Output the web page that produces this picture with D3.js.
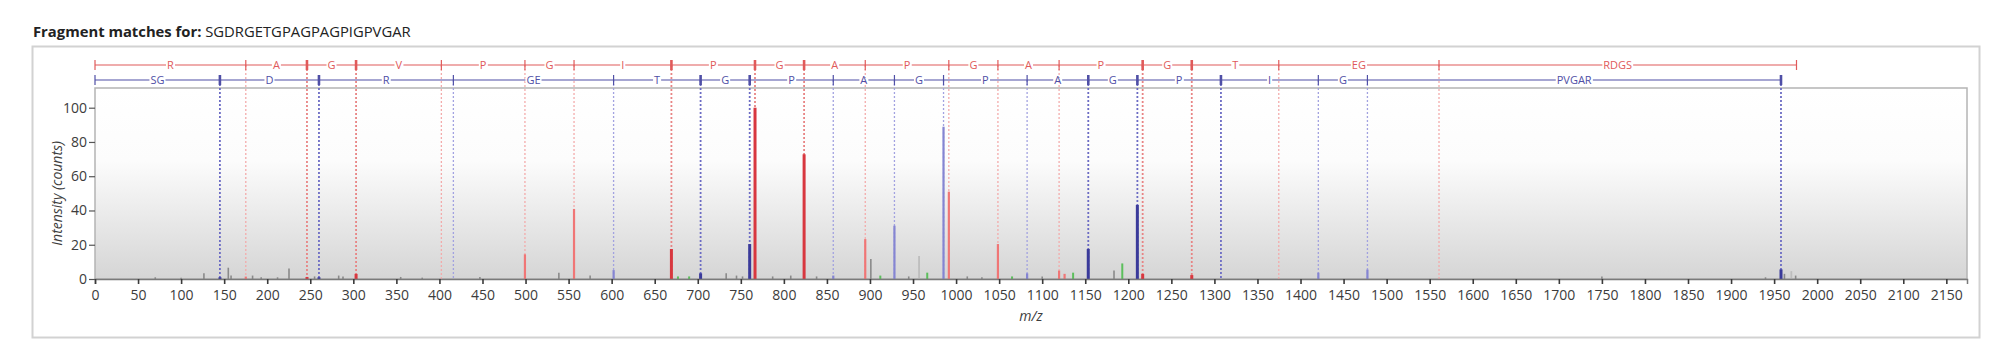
<!DOCTYPE html>
<html><head><meta charset="utf-8">
<script src="https://cdn.jsdelivr.net/npm/d3@7"></script>
<style>
html,body{margin:0;padding:0;background:#fff;}
svg{display:block;font-family:"Open Sans","Noto Sans",sans-serif;}
</style></head>
<body><svg id="c" width="2000" height="360"></svg>
<script>
// ---- data ----
const peptide = "SGDRGETGPAGPAGPIGPVGAR";
const yLabels = ["R","A","G","V","P","G","I","P","G","A","P","G","A","P","G","T","EG","RDGS"];
const yMz = [0, 175.12, 246.16, 303.18, 402.25, 499.30, 556.32, 669.41, 766.46, 823.48, 894.52, 991.57, 1048.59, 1119.63, 1216.68, 1273.70, 1374.75, 1560.82, 1975.99];
const yStrong = [0, 0, 1, 1, 0, 0, 0, 1, 1, 1, 0, 0, 0, 0, 1, 1, 0, 0, 0];
const bLabels = ["SG","D","R","GE","T","G","P","A","G","P","A","G","P","I","G","PVGAR"];
const bMz = [0, 145.06, 260.09, 416.19, 602.25, 703.30, 760.32, 857.37, 928.41, 985.43, 1082.48, 1153.52, 1210.54, 1307.59, 1420.68, 1477.70, 1957.98];
const bStrong = [0, 1, 1, 0, 0, 1, 1, 0, 0, 0, 0, 1, 1, 1, 0, 0, 1];

const redDarkPeaks = [[246.2,1.2],[303.2,3],[669.4,17.5],[766.5,100],[823.5,72.8],[1216.7,3],[1273.7,2.3]];
const redLightPeaks = [[175.1,1.4],[499.3,14.4],[556.3,40.9],[894.5,23.3],[991.6,51],[1048.6,20.4],[1119.6,4.9],[1126,3]];
const blueDarkPeaks = [[145.1,1],[260.1,1],[703.3,3.3],[760.3,20.4],[1153.5,17.5],[1210.5,43.2],[1958,5.6]];
const blueLightPeaks = [[602.3,5.2],[857.4,2],[928.4,31.1],[985.4,88.9],[1082.5,3.3],[1420.7,3.7],[1477.7,5.5]];
const grayPeaks = [[70,1],[100,0.8],[126.5,3.3],[154.8,6.6],[158,2],[183,2],[193,1],[212,1],[225.3,6.2],[255,1.5],[283,2],[288,1.5],[355,1.2],[380,0.8],[447,1.2],[538.7,3.7],[575,2],[733,3.3],[745,2],[752,1.5],[787,1.5],[808,2],[838,1.5],[901,11.7],[945,1.5],[1013,1.5],[1030,1],[1100,1.5],[1183.4,4.9],[1750,1.5],[1940,1],[1962,3],[1975,2]];
const lightGrayPeaks = [[957,13.4],[1970,4.6]];
const greenPeaks = [[677,1.5],[690,1.5],[912,2],[966.5,3.7],[1065,1.5],[1135.9,3.7],[1193,9.1]];
const xTicks = d3.range(0, 2151, 50);
const yTicks = [0, 20, 40, 60, 80, 100];

// ---- drawing ----
const svg = d3.select("#c");
const x = d3.scaleLinear().domain([0, 2174]).range([95, 1967]);
const y = d3.scaleLinear().domain([0, 111.5]).range([279, 88]);

const RED = "#e05a5a", BLUE = "#4f4fa6";

// outer frame
svg.append("rect").attr("x",32.5).attr("y",46.5).attr("width",1947).attr("height",291)
  .attr("fill","#fff").attr("stroke","#d2d2d2").attr("stroke-width",2);

// title
const t = svg.append("text").attr("x",33).attr("y",37).attr("font-size",14.8).attr("fill","#222");
t.append("tspan").attr("font-weight","bold").text("Fragment matches for: ");
t.append("tspan").text(peptide);

// gradient background
const defs = svg.append("defs");
const g = defs.append("linearGradient").attr("id","bg").attr("x1",0).attr("y1",0).attr("x2",0).attr("y2",1);
g.append("stop").attr("offset","0").attr("stop-color","#ffffff");
g.append("stop").attr("offset","0.38").attr("stop-color","#fcfcfc");
g.append("stop").attr("offset","1").attr("stop-color","#d5d5d5");
svg.append("rect").attr("x",x(0)).attr("y",y(111.5)).attr("width",x(2174)-x(0)).attr("height",y(0)-y(111.5))
  .attr("fill","url(#bg)").attr("stroke","#b4b4b4").attr("stroke-width",1.5);

// dotted guide lines (the final precursor mark of the red ladder has none)
const redLineY = 65, blueLineY = 80;
yMz.forEach((m,i)=>{ if(i===0 || i===yMz.length-1) return;
  svg.append("line").attr("x1",x(m)).attr("x2",x(m)).attr("y1",redLineY).attr("y2",y(0))
    .attr("stroke", yStrong[i] ? "#e88484" : "#f3abab").attr("stroke-width", yStrong[i]?1.8:1.3)
    .attr("stroke-dasharray","2,2");
});
bMz.forEach((m,i)=>{ if(i===0) return;
  svg.append("line").attr("x1",x(m)).attr("x2",x(m)).attr("y1",blueLineY).attr("y2",y(0))
    .attr("stroke", bStrong[i] ? "#6c6cc4" : "#a2a2e0").attr("stroke-width", bStrong[i]?1.8:1.3)
    .attr("stroke-dasharray","2,2");
});

// peaks
function peaks(data, color, w){
  svg.append("g").selectAll("line").data(data).join("line")
    .attr("x1",d=>x(d[0])).attr("x2",d=>x(d[0])).attr("y1",y(0)).attr("y2",d=>y(d[1]))
    .attr("stroke",color).attr("stroke-width",w);
}
peaks(grayPeaks,"#8a8a8a",1.6);
peaks(lightGrayPeaks,"#bdbdbd",1.8);
peaks(greenPeaks,"#5cbf5c",2);
peaks(redLightPeaks,"#f07676",2.2);
peaks(blueLightPeaks,"#8585d2",2.2);
peaks(redDarkPeaks,"#d8373f",3);
peaks(blueDarkPeaks,"#3a3a9a",3);

// ladders
function ladder(mz, labels, strong, ly, color){
  const gL = svg.append("g");
  gL.append("line").attr("x1",x(mz[0])).attr("x2",x(mz[mz.length-1])).attr("y1",ly).attr("y2",ly)
    .attr("stroke",color).attr("stroke-width",1.2);
  labels.forEach((lab,i)=>{
    const cx = (x(mz[i])+x(mz[i+1]))/2;
    const tx = gL.append("text").attr("x",cx).attr("y",ly+4).attr("text-anchor","middle")
      .attr("font-size",11).attr("fill",color).text(lab);
    const bb = tx.node().getBBox();
    gL.insert("rect","text").attr("x",bb.x-1).attr("y",ly-2).attr("width",bb.width+2).attr("height",4).attr("fill","#fff");
  });
  mz.forEach((m,i)=>{
    gL.append("line").attr("x1",x(m)).attr("x2",x(m)).attr("y1",ly-5).attr("y2",ly+5)
      .attr("stroke",color).attr("stroke-width", strong[i]?2.6:1.2);
  });
}
ladder(yMz, yLabels, yStrong, redLineY, RED);
ladder(bMz, bLabels, bStrong, blueLineY, BLUE);

// axes
const xa = svg.append("g").attr("transform",`translate(0,${y(0)})`)
  .call(d3.axisBottom(x).tickValues(xTicks).tickSize(5).tickPadding(6).tickFormat(d3.format("d")));
xa.select(".domain").attr("stroke","#7a7a7a").attr("stroke-width",1.5);
xa.selectAll(".tick line").attr("stroke","#3a3a3a").attr("stroke-width",1.6);
xa.selectAll("text").attr("font-size",14).attr("fill","#3c3c3c").attr("font-family","'Open Sans',sans-serif");

const ya = svg.append("g").attr("transform",`translate(${x(0)},0)`)
  .call(d3.axisLeft(y).tickValues(yTicks).tickSize(6).tickPadding(2));
ya.select(".domain").remove();
ya.selectAll(".tick line").attr("stroke","#555").attr("stroke-width",1.2);
ya.selectAll("text").attr("font-size",14).attr("fill","#3c3c3c").attr("font-family","'Open Sans',sans-serif");

svg.append("text").attr("transform",`translate(62,${(y(0)+y(100))/2}) rotate(-90)`)
  .attr("text-anchor","middle").attr("font-size",14).attr("font-style","italic").attr("fill","#3c3c3c")
  .text("Intensity (counts)");
svg.append("text").attr("x",(x(0)+x(2174))/2).attr("y",321).attr("text-anchor","middle")
  .attr("font-size",14).attr("font-style","italic").attr("fill","#3c3c3c").text("m/z");
</script></body></html>
